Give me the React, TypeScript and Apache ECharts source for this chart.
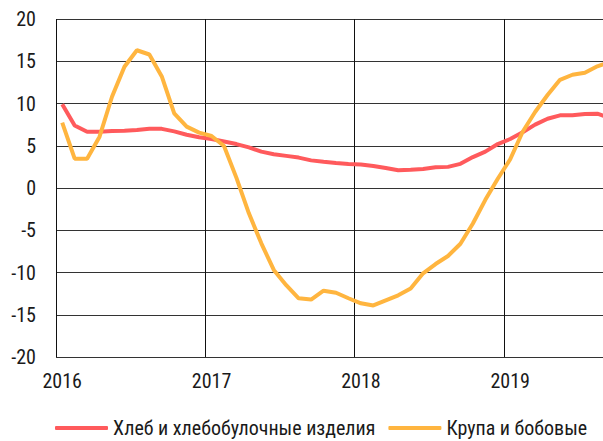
import React, { useEffect, useRef } from "react";
import * as echarts from "echarts";

const months: string[] = [
  "2016-01","2016-02","2016-03","2016-04","2016-05","2016-06","2016-07","2016-08","2016-09","2016-10","2016-11","2016-12",
  "2017-01","2017-02","2017-03","2017-04","2017-05","2017-06","2017-07","2017-08","2017-09","2017-10","2017-11","2017-12",
  "2018-01","2018-02","2018-03","2018-04","2018-05","2018-06","2018-07","2018-08","2018-09","2018-10","2018-11","2018-12",
  "2019-01","2019-02","2019-03","2019-04","2019-05","2019-06","2019-07","2019-08","2019-09",
];

const breadName = "Хлеб и хлебобулочные изделия";
const grainsName = "Крупа и бобовые";

const bread: number[] = [
  9.9, 7.4, 6.66, 6.66, 6.75, 6.78, 6.86, 7.0, 7.0, 6.7, 6.3, 6.0,
  5.8, 5.5, 5.2, 4.8, 4.3, 4.0, 3.8, 3.6, 3.27, 3.1, 2.95, 2.85,
  2.77, 2.6, 2.37, 2.1, 2.17, 2.25, 2.45, 2.5, 2.86, 3.66, 4.3, 5.2,
  5.8, 6.6, 7.5, 8.2, 8.6, 8.6, 8.75, 8.8, 8.3,
];

const grains: number[] = [
  7.73, 3.47, 3.47, 6.07, 10.8, 14.35, 16.3, 15.8, 13.2, 8.84, 7.26, 6.55,
  6.15, 4.97, 1.2, -3.0, -6.55, -9.7, -11.5, -13.05, -13.2, -12.15, -12.4, -13.05,
  -13.65, -13.9, -13.3, -12.7, -11.9, -10.1, -9.0, -8.05, -6.6, -4.2, -1.4, 1.1,
  3.4, 6.66, 9.0, 11.0, 12.8, 13.4, 13.65, 14.4, 14.9,
];

const yMin = -20;
const yMax = 20;
const yStep = 5;

const FONT = '"Liberation Sans Narrow", "Roboto Condensed", "Liberation Sans", sans-serif';

export default function App() {
  const ref = useRef<HTMLDivElement>(null);
  useEffect(() => {
    if (!ref.current) return;
    const chart = echarts.init(ref.current, undefined, { renderer: "svg" });
    chart.setOption({
      animation: false,
      backgroundColor: "#ffffff",
      textStyle: { fontFamily: FONT },
      grid: { left: 56, right: 0, top: 19, bottom: 84, containLabel: false },
      legend: {
        left: 55,
        top: 418,
        padding: 0,
        itemGap: 13,
        itemWidth: 53,
        itemHeight: 4,
        icon: "roundRect",
        textStyle: { fontFamily: FONT, fontSize: 20, color: "#1a1a1a" },
        data: [breadName, grainsName],
      },
      xAxis: {
        type: "category",
        data: months,
        boundaryGap: true,
        axisLine: { show: false },
        axisTick: { show: false, interval: 11 },
        axisLabel: {
          interval: 11,
          margin: 14,
          fontFamily: FONT,
          fontSize: 20,
          color: "#1a1a1a",
          formatter: (v: string) => v.slice(0, 4),
        },
        splitLine: { show: true, interval: 11, lineStyle: { color: "#111", width: 1 } },
      },
      yAxis: {
        type: "value",
        min: yMin,
        max: yMax,
        interval: yStep,
        axisLine: { show: false },
        axisTick: { show: false },
        axisLabel: { margin: 20, fontFamily: FONT, fontSize: 20, color: "#1a1a1a" },
        splitLine: { show: true, lineStyle: { color: "#333", width: 1 } },
      },
      series: [
        {
          name: breadName,
          type: "line",
          data: bread,
          symbol: "none",
          lineStyle: { color: "#FF5A5C", width: 4 },
          itemStyle: { color: "#FF5A5C" },
          z: 3,
        },
        {
          name: grainsName,
          type: "line",
          data: grains,
          symbol: "none",
          lineStyle: { color: "#FFB53F", width: 4 },
          itemStyle: { color: "#FFB53F" },
          z: 4,
        },
      ],
    });
    return () => chart.dispose();
  }, []);
  return (
    <div style={{ position: "absolute", left: 0, top: 0, width: 603, height: 441, overflow: "hidden", background: "#fff" }}>
      <div ref={ref} style={{ width: 616, height: 441 }} />
    </div>
  );
}
